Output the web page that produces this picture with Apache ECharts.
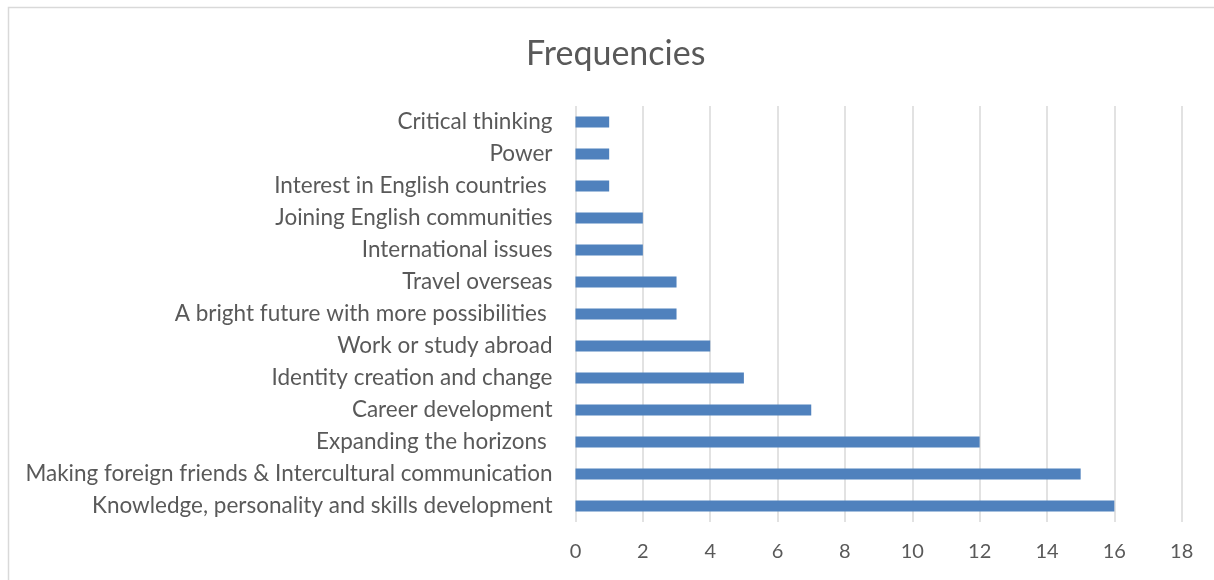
<!DOCTYPE html>
<html>
<head>
<meta charset="utf-8">
<script src="https://cdn.jsdelivr.net/npm/echarts@6/dist/echarts.min.js"></script>
<style>
html,body{margin:0;padding:0;background:#fff;}
#chart{width:1214px;height:580px;}
</style>
</head>
<body>
<div id="chart"></div>
<script>
var categories = [
  "Critical thinking",
  "Power",
  "Interest in English countries ",
  "Joining English communities",
  "International issues",
  "Travel overseas",
  "A bright future with more possibilities ",
  "Work or study abroad",
  "Identity creation and change",
  "Career development",
  "Expanding the horizons ",
  "Making foreign friends & Intercultural communication",
  "Knowledge, personality and skills development"
];
var frequencies = [1, 1, 1, 2, 2, 3, 3, 4, 5, 7, 12, 15, 16];
var xTicks = { min: 0, max: 18, interval: 2 };

var chart = echarts.init(document.getElementById('chart'), null, { renderer: 'canvas' });
var font = 'Lato, "Open Sans", sans-serif';
chart.setOption({
  animation: false,
  backgroundColor: '#ffffff',
  title: {
    text: 'Frequencies',
    left: 521,
    top: 32,
    textStyle: { fontFamily: font, fontSize: 34, fontWeight: 'normal', color: '#595959' }
  },
  graphic: [{
    type: 'rect',
    silent: true,
    shape: { x: 8.5, y: 7.5, width: 1400, height: 800 },
    style: { fill: 'none', stroke: '#d9d9d9', lineWidth: 1.5 }
  }],
  grid: { left: 575.5, right: 32.3, top: 106, bottom: 58, containLabel: false },
  xAxis: {
    type: 'value',
    min: xTicks.min,
    max: xTicks.max,
    interval: xTicks.interval,
    axisLine: { show: false },
    axisTick: { show: false },
    splitLine: { show: true, lineStyle: { color: '#d9d9d9', width: 1.5 } },
    axisLabel: { fontFamily: font, fontSize: 20, color: '#595959', margin: 20 }
  },
  yAxis: {
    type: 'category',
    data: categories,
    inverse: true,
    axisLine: { show: false },
    axisTick: { show: false },
    splitLine: { show: false },
    axisLabel: { fontFamily: font, fontSize: 22.5, color: '#595959', margin: 23 }
  },
  series: [{
    type: 'bar',
    data: frequencies,
    barWidth: 11,
    itemStyle: { color: '#4f81bd' }
  }]
});
</script>
</body>
</html>
